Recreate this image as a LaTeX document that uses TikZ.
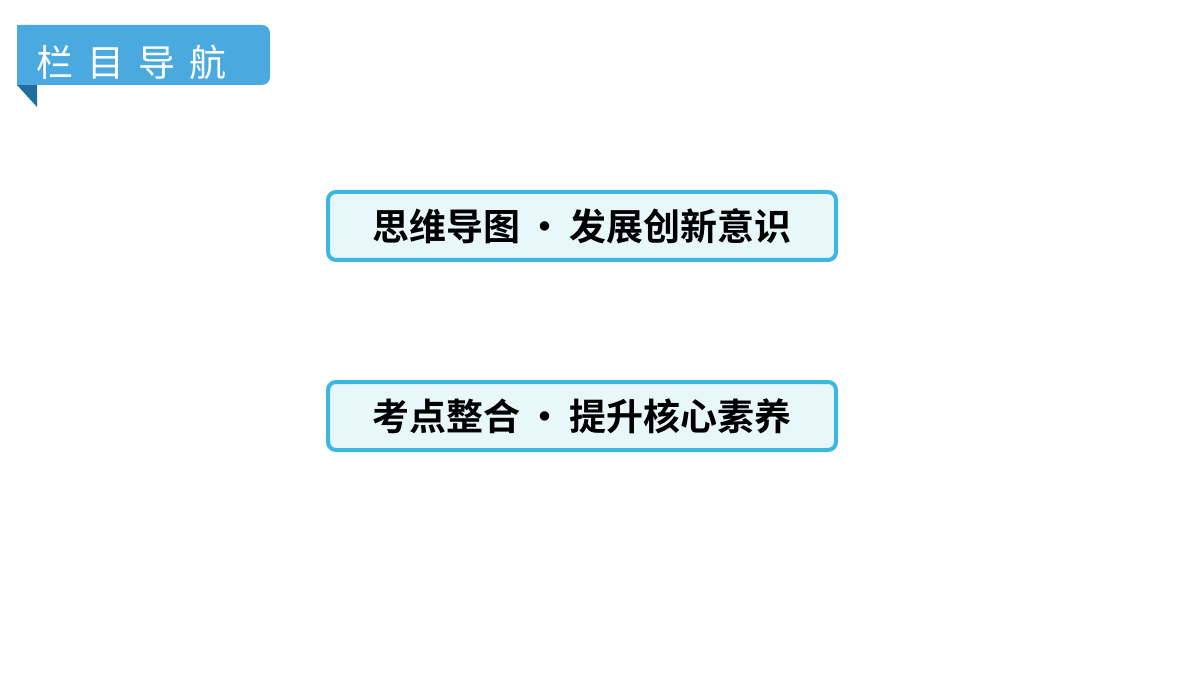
\documentclass[tikz,border=0pt]{standalone}
\usepackage{fontspec}
\newfontfamily\cjk{Noto Sans CJK SC}
\newfontfamily\cjkb{Noto Sans CJK SC Bold}
\definecolor{banner}{HTML}{4AAAE0}
\definecolor{fold}{HTML}{1F6E9E}
\definecolor{bord}{HTML}{3CB8E0}
\definecolor{boxfill}{HTML}{E8F7FA}
\begin{document}
\begin{tikzpicture}[x=1pt,y=-1pt,
  navbox/.style={draw=bord,line width=4pt,fill=boxfill,rounded corners=8pt,minimum width=508pt,minimum height=68pt,font=\cjkb\fontsize{37}{40}\selectfont,text=black,inner sep=0pt}]
\useasboundingbox[fill=white] (0,0) rectangle (1200,679);
\fill[fold] (17,85) -- (37,85) -- (37,107) -- cycle;
\fill[banner,rounded corners=8pt] (17,25) -- (270,25) -- (270,85) -- (17,85) [sharp corners] -- cycle;
\fill[banner] (17,25) rectangle (40,85);
\node[text=white,font=\cjk\fontsize{37}{40}\selectfont,anchor=west] (nav) at (33,62) {栏\hspace{14pt}目\hspace{14pt}导\hspace{14pt}航};
\node[navbox] (b1) at (582,226) {思维导图\,·\,发展创新意识};
\node[navbox] (b2) at (582,416) {考点整合\,·\,提升核心素养};
\end{tikzpicture}
\end{document}
